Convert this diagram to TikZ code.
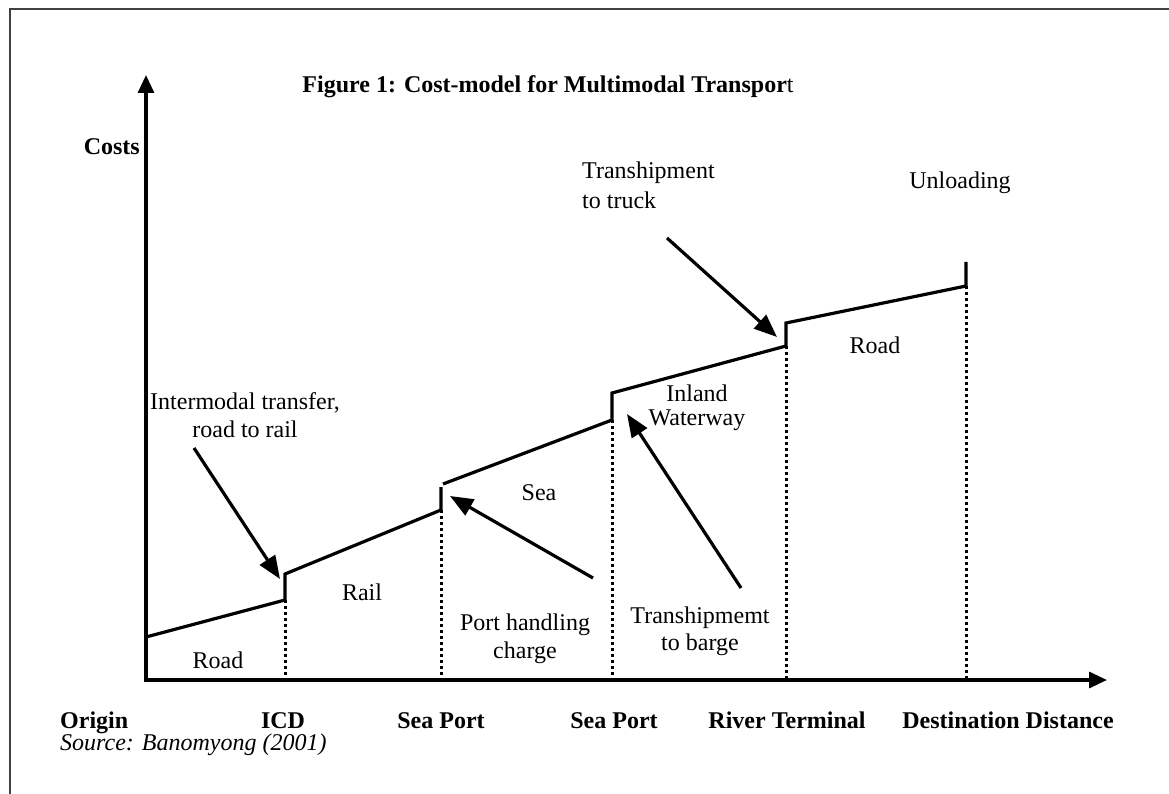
\documentclass[tikz,border=0pt]{standalone}
\usepackage{fontspec}
\setmainfont{Liberation Serif}
\usetikzlibrary{arrows.meta}
\tikzset{
  lbl/.style={inner sep=0pt, font=\fontsize{24}{28}\selectfont, align=center},
  blbl/.style={lbl, font=\fontsize{24}{28}\selectfont\bfseries, anchor=base},
  costline/.style={line width=3.2pt, line cap=butt, line join=miter},
  drop/.style={line width=3pt, dash pattern=on 3pt off 3pt},
  axis/.style={line width=3.2pt, -{Triangle[length=18pt,width=16pt]}},
  pointer/.style={line width=3.2pt, -{Triangle[length=23pt,width=18pt]}},
}
\begin{document}
\begin{tikzpicture}[x=1pt,y=-1pt]
\useasboundingbox (0,0) rectangle (1169,794);
% frame
\draw[line width=2.4pt, black!75] (10,794) -- (10,9) -- (1169,9);
% title
\node[lbl, font=\fontsize{24}{28}\selectfont\bfseries] (title) at (548,87) {Figure 1: Cost-model for Multimodal Transpor\textmd{t}};
% axes
\coordinate (O) at (146,680);
\coordinate (ytip) at (146,75);
\coordinate (xtip) at (1107,680);
\draw[axis] (146,681.6) -- (ytip);
\draw[axis] (144.4,680) -- (xtip);
% cost line points
\coordinate (p0) at (146,637);
\coordinate (p1) at (285,600);
\coordinate (p1t) at (285,574);
\coordinate (p2) at (441,510);
\coordinate (p2t) at (441,487);
\coordinate (p2s) at (443,484);
\coordinate (p3) at (612,420);
\coordinate (p3t) at (612,393);
\coordinate (p4) at (786,346);
\coordinate (p4t) at (786,323);
\coordinate (p5) at (966,286);
\coordinate (p5t) at (966,262);
\draw[costline] (p0) -- (p1) -- (p1t) -- (p2) -- (p2t);
\draw[costline] (p2s) -- (p3) -- (p3t) -- (p4) -- (p4t) -- (p5) -- (p5t);
% dotted drops
\coordinate (b1) at (285,680);
\coordinate (b2) at (441,680);
\coordinate (b3) at (612,680);
\coordinate (b4) at (786,680);
\coordinate (b5) at (966,680);
\draw[drop] (p1) -- (b1);
\draw[drop] (p2) -- (b2);
\draw[drop] (p3) -- (b3);
\draw[drop] (p4) -- (b4);
\draw[drop] (p5) -- (b5);
% labels in chart
\node[lbl, font=\fontsize{24}{28}\selectfont\bfseries, anchor=base east] (costs) at (140,155) {Costs};
\node[lbl] (inter1) at (245,403) {Intermodal transfer,};
\node[lbl] (inter2) at (245,429) {road to rail};
\node[lbl] (road1) at (218,660) {Road};
\node[lbl] (rail) at (362,592) {Rail};
\node[lbl] (sea) at (539,493) {Sea};
\node[lbl] (port1) at (525,625) {Port handling};
\node[lbl] (port2) at (525,653) {charge};
\node[lbl] (inland1) at (697,393) {Inland};
\node[lbl] (inland2) at (697,420) {Waterway};
\node[lbl] (barge1) at (700,618) {Transhipmemt};
\node[lbl] (barge2) at (700,645) {to barge};
\node[lbl] (road2) at (875,345) {Road};
\node[lbl, anchor=west] (truck1) at (582,173) {Transhipment};
\node[lbl, anchor=west] (truck2) at (582,200) {to truck};
\node[lbl] (unload) at (960,183) {Unloading};
% pointer arrows
\coordinate (a1s) at (194,448);
\coordinate (a1e) at (280,579);
\coordinate (a2s) at (593,578);
\coordinate (a2e) at (450,496);
\coordinate (a3s) at (741,588);
\coordinate (a3e) at (627,414);
\coordinate (a4s) at (667,238);
\coordinate (a4e) at (777,337);
\draw[pointer] (a1s) -- (a1e);
\draw[pointer] (a2s) -- (a2e);
\draw[pointer] (a3s) -- (a3e);
\draw[pointer] (a4s) -- (a4e);
% bottom labels
\node[blbl, anchor=base west] (origin) at (60,728) {Origin};
\node[blbl] (icd) at (283,728) {ICD};
\node[blbl] (sp1) at (441,728) {Sea Port};
\node[blbl] (sp2) at (614,728) {Sea Port};
\node[blbl] (river) at (787,728) {River Terminal};
\node[blbl] (dest) at (1008,728) {Destination Distance};
\node[lbl, font=\fontsize{24}{28}\selectfont\itshape, anchor=base west] (source) at (60,750) {Source: Banomyong (2001)};
\end{tikzpicture}
\end{document}
